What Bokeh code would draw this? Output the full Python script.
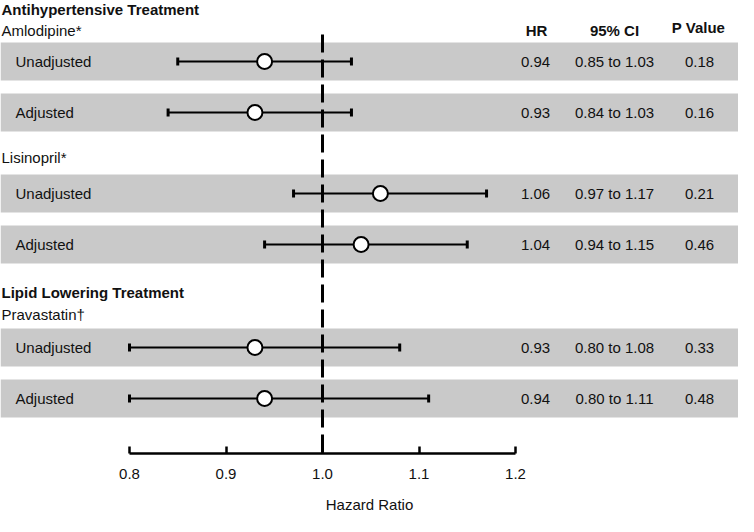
from bokeh.plotting import figure
from bokeh.models import Range1d, FixedTicker, ColumnDataSource
from bokeh.core.properties import value
from bokeh.embed import file_html
from bokeh.resources import INLINE

# ---- data ----
sections = ["Antihypertensive Treatment", "Lipid Lowering Treatment"]
drugs = ["Amlodipine*", "Lisinopril*", "Pravastatin\u2020"]
row_labels = ["Unadjusted", "Adjusted", "Unadjusted", "Adjusted", "Unadjusted", "Adjusted"]
hr = [0.94, 0.93, 1.06, 1.04, 0.93, 0.94]
ci_low = [0.85, 0.84, 0.97, 0.94, 0.80, 0.80]
ci_high = [1.03, 1.03, 1.17, 1.15, 1.08, 1.11]
p_values = [0.18, 0.16, 0.21, 0.46, 0.33, 0.48]
col_headers = ["HR", "95% CI", "P Value"]
ticks = [0.8, 0.9, 1.0, 1.1, 1.2]
tick_labels = ["0.8", "0.9", "1.0", "1.1", "1.2"]
reference_hr = 1.0

# ---- layout (positions) ----
W, H = 738, 516
scale = 965.0          # px per unit HR
x_start = 0.8 - (137 - 8) / scale
x_end = x_start + W / scale

def px(xp):
    return x_start + (xp - 8) / scale

row_y = [69, 120, 201, 252, 355, 406]
section_y = [17, 300]
drug_y = [38, 165, 322]
band_half = 19
FONT = "Liberation Sans"

p = figure(width=W, height=H, output_backend="svg", toolbar_location=None,
           x_range=Range1d(x_start, x_end), y_range=Range1d(461, 8),
           y_axis_type=None, min_border_left=0, min_border_right=0,
           min_border_top=0, min_border_bottom=H - 453)
p.outline_line_color = None
p.grid.visible = False
p.background_fill_color = "white"

# bands
p.quad(left=x_start, right=x_end,
       top=[y - band_half for y in row_y], bottom=[y + band_half for y in row_y],
       fill_color="#c9c9c9", line_color=None)

# reference line
p.segment(x0=[reference_hr], x1=[reference_hr], y0=[42], y1=[461],
          line_color="black", line_width=3, line_dash="18 7")

# error bars
src = ColumnDataSource(dict(y=row_y, hr=hr, lo=ci_low, hi=ci_high,
                            ytop=[y - 4 for y in row_y], ybot=[y + 4 for y in row_y]))
p.segment(x0="lo", x1="hi", y0="y", y1="y", source=src, line_color="black", line_width=2)
p.segment(x0="lo", x1="lo", y0="ytop", y1="ybot", source=src, line_color="black", line_width=3)
p.segment(x0="hi", x1="hi", y0="ytop", y1="ybot", source=src, line_color="black", line_width=3)
p.scatter(x="hr", y="y", source=src, size=15, fill_color="white",
          line_color="black", line_width=2)

# texts
def txt(x, y, t, size="15px", bold=False, align="left", color="#111111"):
    p.text(x=x, y=y, text=t, text_font=value(FONT), text_font_size=value(size),
           text_font_style="bold" if bold else "normal", text_align=align,
           text_baseline="middle", text_color=color)

txt([px(9)] * 2, section_y, sections, bold=True)
txt([px(9)] * 3, drug_y, drugs)
txt([px(23)] * 6, row_y, row_labels)
txt([px(544), px(622), px(706)], [38, 38, 35], col_headers, bold=True, align="center")
txt([px(543)] * 6, row_y, [f"{v:.2f}" for v in hr], align="center")
txt([px(622)] * 6, row_y, [f"{a:.2f} to {b:.2f}" for a, b in zip(ci_low, ci_high)], align="center")
txt([px(707)] * 6, row_y, [f"{v:.2f}" for v in p_values], align="center")

# axis
ax = p.xaxis[0]
ax.bounds = (ticks[0], ticks[-1])
ax.ticker = FixedTicker(ticks=ticks)
ax.major_label_overrides = {t: l for t, l in zip(ticks, tick_labels)}
ax.minor_tick_line_color = None
ax.major_tick_in = 7
ax.major_tick_out = 0
ax.major_tick_line_width = 2.5
ax.axis_line_width = 2.5
ax.axis_line_color = "black"
ax.major_label_standoff = 15
ax.major_label_text_font = FONT
ax.major_label_text_font_size = "15px"
ax.major_label_text_color = "#111111"
ax.axis_label = "Hazard Ratio"
ax.axis_label_text_font = FONT
ax.axis_label_text_font_size = "15px"
ax.axis_label_text_font_style = "normal"
ax.axis_label_text_color = "#111111"
ax.axis_label_standoff = 14

open("out.html", "w").write(file_html(p, INLINE))
